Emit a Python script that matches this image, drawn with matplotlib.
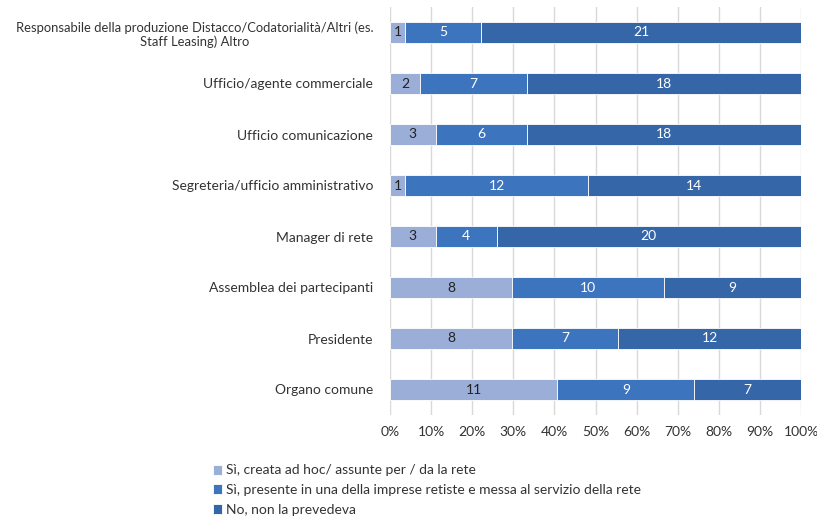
import numpy as np
import matplotlib.pyplot as plt

plt.rcParams['font.family'] = ['Lato', 'DejaVu Sans']

# ==================================
# DATA
# ==================================
categories = [
    "Responsabile della produzione Distacco/Codatorialità/Altri (es.\nStaff Leasing) Altro",
    "Ufficio/agente commerciale",
    "Ufficio comunicazione",
    "Segreteria/ufficio amministrativo",
    "Manager di rete",
    "Assemblea dei partecipanti",
    "Presidente",
    "Organo comune",
]
si_adhoc = [1, 2, 3, 1, 3, 8, 8, 11]
si_presente = [5, 7, 6, 12, 4, 10, 7, 9]
no_prevedeva = [21, 18, 18, 14, 20, 9, 12, 7]

series_names = [
    "Sì, creata ad hoc/ assunte per / da la rete",
    "Sì, presente in una della imprese retiste e messa al servizio della rete",
    "No, non la prevedeva",
]
colors = ["#9BAED8", "#3D74BE", "#3566A8"]
text_colors = ["#222222", "white", "white"]

# ==================================
# PLOT
# ==================================
fig = plt.figure(figsize=(8.17, 5.16), dpi=100)
ax = fig.add_axes([390 / 817, 1 - 415 / 516, 411 / 817, 408 / 516])

data = np.array([si_adhoc, si_presente, no_prevedeva], dtype=float)
totals = data.sum(axis=0)
pct = data / totals

y = np.arange(len(categories))
left = np.zeros(len(categories))
for i in range(3):
    bars = ax.barh(y, pct[i], left=left, height=0.4, color=colors[i],
                   edgecolor="white", linewidth=0.6, label=series_names[i], zorder=3)
    for j, b in enumerate(bars):
        ax.text(left[j] + pct[i][j] / 2, y[j], str(int(data[i][j])),
                ha="center", va="center", fontsize=10, color=text_colors[i], zorder=4)
    left += pct[i]

ax.set_ylim(len(categories) - 0.5, -0.5)
ax.set_xlim(0, 1)
ax.set_yticks(y)
ax.set_yticklabels(categories, fontsize=10, color="#333333")
for t in ax.get_yticklabels():
    t.set_multialignment("center")
ax.get_yticklabels()[0].set_fontsize(9.4)
ax.tick_params(axis="y", length=0, pad=12)
ax.set_xticks(np.linspace(0, 1, 11))
ax.set_xticklabels([f"{k}%" for k in range(0, 101, 10)], fontsize=10, color="#333333")
ax.tick_params(axis="x", length=0, pad=8)
ax.grid(axis="x", color="#D9D9D9", linewidth=1, zorder=0)
for s in ax.spines.values():
    s.set_visible(False)

handles, labels = ax.get_legend_handles_labels()
fig.legend(handles, labels, loc="upper left", bbox_to_anchor=(200 / 817, 1 - 452 / 516),
           frameon=False, fontsize=10, handlelength=0.7, handleheight=0.7,
           handletextpad=0.3, labelspacing=0.55, labelcolor="#333333")

plt.savefig("out.png", dpi=100)
